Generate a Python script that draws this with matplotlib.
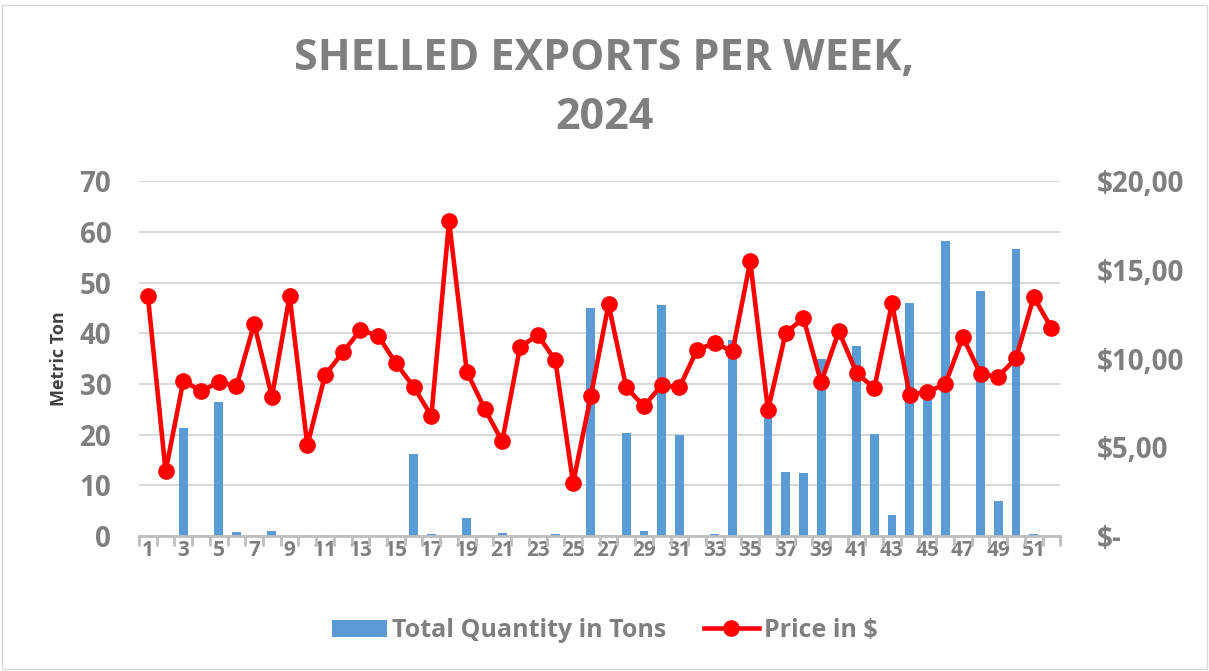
import numpy as np
import matplotlib
matplotlib.use('Agg')
import matplotlib.pyplot as plt
from matplotlib.patches import Rectangle
from matplotlib.lines import Line2D
from matplotlib.patches import Patch

plt.rcParams['font.family'] = ['Open Sans', 'DejaVu Sans']

# weekly data
weeks = list(range(1, 53))
tons = [0.0, 0.3, 21.3, 0.3, 26.5, 0.8, 0.3, 1.1, 0.0, 0.3,
        0.2, 0.2, 0.0, 0.0, 0.0, 16.2, 0.5, 0.0, 3.5, 0.2,
        0.7, 0.0, 0.1, 0.4, 0.3, 44.9, 0.3, 20.3, 1.0, 45.5,
        20.0, 0.0, 0.5, 38.6, 0.0, 25.5, 12.7, 12.4, 35.0, 0.0,
        37.5, 20.1, 4.1, 46.0, 26.8, 58.2, 0.3, 48.3, 7.0, 56.6,
        0.5, 0.0]
price = [13.53, 3.65, 8.76, 8.17, 8.67, 8.46, 11.96, 7.85, 13.53, 5.11,
         9.08, 10.35, 11.62, 11.28, 9.74, 8.42, 6.77, 17.75, 9.27, 7.19,
         5.34, 10.63, 11.35, 9.90, 2.99, 7.89, 13.06, 8.38, 7.32, 8.51,
         8.38, 10.50, 10.88, 10.41, 15.48, 7.10, 11.45, 12.28, 8.67, 11.54,
         9.20, 8.33, 13.11, 7.95, 8.14, 8.55, 11.22, 9.12, 8.99, 10.03,
         13.47, 11.73]
left_ticks = [0, 10, 20, 30, 40, 50, 60, 70]
right_ticks = [0, 5, 10, 15, 20]
right_labels = ['$-', '$5,00', '$10,00', '$15,00', '$20,00']

grey = '#7F7F7F'
bar_blue = '#5B9BD5'

fig = plt.figure(figsize=(12.09, 6.71), dpi=100)
ax = fig.add_axes([0.115, 0.201, 0.762, 0.529])
ax2 = ax.twinx()

x = np.arange(len(weeks))
ax.bar(x, tons, width=0.5, color=bar_blue, zorder=2)
ax2.plot(x, price, color='#FF0000', lw=3.3, marker='o', markersize=11, zorder=3)

ax.set_xlim(-0.5, len(weeks) - 0.5)
ax.set_ylim(0, 70)
ax2.set_ylim(0, 20)
ax.set_yticks(left_ticks)
ax2.set_yticks(right_ticks)
ax2.set_yticklabels(right_labels)
ax.set_xticks(x[::2])
ax.set_xticklabels([str(w) for w in weeks[::2]])
ax.set_xticks(np.arange(-0.5, len(weeks), 1), minor=True)

ax.grid(axis='y', color='#D9D9D9', lw=1.5, zorder=0)
ax.set_axisbelow(True)
for a in (ax, ax2):
    for s in ('top', 'left', 'right', 'bottom'):
        a.spines[s].set_visible(False)
ax.spines['bottom'].set_visible(True)
ax.spines['bottom'].set_color('#BFBFBF')
ax.spines['bottom'].set_linewidth(2)

ax.tick_params(axis='x', which='major', length=0, pad=3, labelsize=15, labelcolor=grey)
ax.tick_params(axis='x', which='minor', length=7, width=2, color='#BFBFBF')
ax.tick_params(axis='y', length=0, pad=20, labelsize=20, labelcolor=grey)
ax2.tick_params(axis='y', length=0, pad=26, labelsize=20, labelcolor=grey)
for lab in ax.get_xticklabels() + ax.get_yticklabels() + ax2.get_yticklabels():
    lab.set_fontweight('bold')

ax.set_ylabel('Metric Ton', fontsize=13, fontweight='bold', color='#404040', labelpad=8)

fig.text(0.5, 0.913, 'SHELLED EXPORTS PER WEEK,', ha='center', va='center',
         fontsize=31, fontweight='bold', color=grey)
fig.text(0.5, 0.825, '2024', ha='center', va='center',
         fontsize=31, fontweight='bold', color=grey)

handles = [Patch(facecolor=bar_blue, label='Total Quantity in Tons'),
           Line2D([0], [0], color='#FF0000', lw=3.3, marker='o', markersize=11,
                  label='Price in $')]
leg = fig.legend(handles=handles, loc='center', bbox_to_anchor=(0.5, 0.06), ncol=2,
                 frameon=False, fontsize=18, handlelength=2.2, columnspacing=1.5,
                 handletextpad=0.2)
for t in leg.get_texts():
    t.set_color(grey)
    t.set_fontweight('bold')

fig.patches.append(Rectangle((0.002, 0.003), 0.996, 0.99, transform=fig.transFigure,
                             fill=False, edgecolor='#D9D9D9', lw=1))

fig.savefig('out.png', dpi=100)
